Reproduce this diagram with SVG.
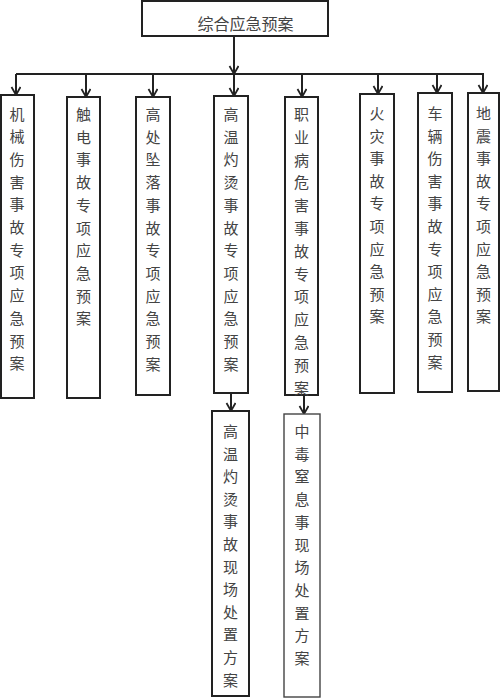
<svg xmlns="http://www.w3.org/2000/svg" width="500" height="699" viewBox="0 0 500 699">
<style>
.box{fill:#fff;stroke:#222;stroke-width:2}
.box2{fill:#fff;stroke:#444;stroke-width:1.4}
.t{font-family:"Noto Sans CJK SC","Noto Sans CJK TC",sans-serif;font-size:15px;fill:#444;text-anchor:middle;dominant-baseline:central}
.tt{font-family:"Noto Sans CJK SC","Noto Sans CJK TC",sans-serif;font-size:16px;fill:#444;text-anchor:middle;dominant-baseline:central}
.ln{stroke:#222;stroke-width:2;fill:none}
.ar{stroke:#222;stroke-width:2;fill:none;marker-end:url(#ah)}
</style>
<defs>
<marker id="ah" markerUnits="userSpaceOnUse" markerWidth="12" markerHeight="12" refX="9" refY="5" orient="auto">
<path d="M1,0.5 L9,5 L1,9.5" fill="none" stroke="#222" stroke-width="1.8"/>
</marker>
</defs>
<rect width="500" height="699" fill="#fff"/>
<g id="connectors">
<line class="ar" x1="234" y1="36" x2="234" y2="74"/>
<line class="ln" x1="16" y1="74" x2="484" y2="74"/>
<line class="ar" x1="16" y1="74" x2="16" y2="95"/>
<line class="ar" x1="86" y1="74" x2="86" y2="97"/>
<line class="ar" x1="153" y1="74" x2="153" y2="97"/>
<line class="ar" x1="234" y1="74" x2="234" y2="96"/>
<line class="ar" x1="302" y1="74" x2="302" y2="97"/>
<line class="ar" x1="378" y1="74" x2="378" y2="94"/>
<line class="ar" x1="437" y1="74" x2="437" y2="93"/>
<line class="ar" x1="483" y1="74" x2="483" y2="93"/>
<line class="ar" x1="231" y1="393" x2="231" y2="411"/>
<line class="ar" x1="304" y1="395" x2="304" y2="414"/>
</g>
<g id="root">
<rect class="box" x="142" y="1" width="186" height="35"/>
<text class="tt" x="245.5" y="23">综合应急预案</text>
</g>
<g id="n1">
<rect class="box" x="1" y="95" width="33" height="303"/>
<text class="t"><tspan x="17" y="112.5">机</tspan><tspan x="17" dy="22.7">械</tspan><tspan x="17" dy="22.7">伤</tspan><tspan x="17" dy="22.7">害</tspan><tspan x="17" dy="22.7">事</tspan><tspan x="17" dy="22.7">故</tspan><tspan x="17" dy="22.7">专</tspan><tspan x="17" dy="22.7">项</tspan><tspan x="17" dy="22.7">应</tspan><tspan x="17" dy="22.7">急</tspan><tspan x="17" dy="22.7">预</tspan><tspan x="17" dy="22.7">案</tspan></text>
</g>
<g id="n2">
<rect class="box" x="67" y="97" width="33" height="301"/>
<text class="t"><tspan x="83.5" y="113">触</tspan><tspan x="83.5" dy="22.7">电</tspan><tspan x="83.5" dy="22.7">事</tspan><tspan x="83.5" dy="22.7">故</tspan><tspan x="83.5" dy="22.7">专</tspan><tspan x="83.5" dy="22.7">项</tspan><tspan x="83.5" dy="22.7">应</tspan><tspan x="83.5" dy="22.7">急</tspan><tspan x="83.5" dy="22.7">预</tspan><tspan x="83.5" dy="22.7">案</tspan></text>
</g>
<g id="n3">
<rect class="box" x="136" y="97" width="34" height="298"/>
<text class="t"><tspan x="153" y="113">高</tspan><tspan x="153" dy="22.7">处</tspan><tspan x="153" dy="22.7">坠</tspan><tspan x="153" dy="22.7">落</tspan><tspan x="153" dy="22.7">事</tspan><tspan x="153" dy="22.7">故</tspan><tspan x="153" dy="22.7">专</tspan><tspan x="153" dy="22.7">项</tspan><tspan x="153" dy="22.7">应</tspan><tspan x="153" dy="22.7">急</tspan><tspan x="153" dy="22.7">预</tspan><tspan x="153" dy="22.7">案</tspan></text>
</g>
<g id="n4">
<rect class="box" x="214" y="96" width="34" height="297"/>
<text class="t"><tspan x="231" y="113">高</tspan><tspan x="231" dy="22.7">温</tspan><tspan x="231" dy="22.7">灼</tspan><tspan x="231" dy="22.7">烫</tspan><tspan x="231" dy="22.7">事</tspan><tspan x="231" dy="22.7">故</tspan><tspan x="231" dy="22.7">专</tspan><tspan x="231" dy="22.7">项</tspan><tspan x="231" dy="22.7">应</tspan><tspan x="231" dy="22.7">急</tspan><tspan x="231" dy="22.7">预</tspan><tspan x="231" dy="22.7">案</tspan></text>
</g>
<g id="n5">
<rect class="box" x="285" y="97" width="33" height="298"/>
<text class="t"><tspan x="301.5" y="113">职</tspan><tspan x="301.5" dy="22.8">业</tspan><tspan x="301.5" dy="22.8">病</tspan><tspan x="301.5" dy="22.8">危</tspan><tspan x="301.5" dy="22.8">害</tspan><tspan x="301.5" dy="22.8">事</tspan><tspan x="301.5" dy="22.8">故</tspan><tspan x="301.5" dy="22.8">专</tspan><tspan x="301.5" dy="22.8">项</tspan><tspan x="301.5" dy="22.8">应</tspan><tspan x="301.5" dy="22.8">急</tspan><tspan x="301.5" dy="22.8">预</tspan><tspan x="301.5" dy="22.8">案</tspan></text>
</g>
<g id="n6">
<rect class="box" x="360" y="94" width="34" height="299"/>
<text class="t"><tspan x="377" y="112">火</tspan><tspan x="377" dy="22.6">灾</tspan><tspan x="377" dy="22.6">事</tspan><tspan x="377" dy="22.6">故</tspan><tspan x="377" dy="22.6">专</tspan><tspan x="377" dy="22.6">项</tspan><tspan x="377" dy="22.6">应</tspan><tspan x="377" dy="22.6">急</tspan><tspan x="377" dy="22.6">预</tspan><tspan x="377" dy="22.6">案</tspan></text>
</g>
<g id="n7">
<rect class="box" x="418" y="93" width="34" height="299"/>
<text class="t"><tspan x="435" y="112">车</tspan><tspan x="435" dy="22.6">辆</tspan><tspan x="435" dy="22.6">伤</tspan><tspan x="435" dy="22.6">害</tspan><tspan x="435" dy="22.6">事</tspan><tspan x="435" dy="22.6">故</tspan><tspan x="435" dy="22.6">专</tspan><tspan x="435" dy="22.6">项</tspan><tspan x="435" dy="22.6">应</tspan><tspan x="435" dy="22.6">急</tspan><tspan x="435" dy="22.6">预</tspan><tspan x="435" dy="22.6">案</tspan></text>
</g>
<g id="n8">
<rect class="box" x="468" y="93" width="31" height="298"/>
<text class="t"><tspan x="483.5" y="112">地</tspan><tspan x="483.5" dy="22.6">震</tspan><tspan x="483.5" dy="22.6">事</tspan><tspan x="483.5" dy="22.6">故</tspan><tspan x="483.5" dy="22.6">专</tspan><tspan x="483.5" dy="22.6">项</tspan><tspan x="483.5" dy="22.6">应</tspan><tspan x="483.5" dy="22.6">急</tspan><tspan x="483.5" dy="22.6">预</tspan><tspan x="483.5" dy="22.6">案</tspan></text>
</g>
<g id="s1">
<rect class="box" x="212" y="411" width="37" height="285"/>
<text class="t"><tspan x="230.5" y="430">高</tspan><tspan x="230.5" dy="22.6">温</tspan><tspan x="230.5" dy="22.6">灼</tspan><tspan x="230.5" dy="22.6">烫</tspan><tspan x="230.5" dy="22.6">事</tspan><tspan x="230.5" dy="22.6">故</tspan><tspan x="230.5" dy="22.6">现</tspan><tspan x="230.5" dy="22.6">场</tspan><tspan x="230.5" dy="22.6">处</tspan><tspan x="230.5" dy="22.6">置</tspan><tspan x="230.5" dy="22.6">方</tspan><tspan x="230.5" dy="22.6">案</tspan></text>
</g>
<g id="s2">
<rect class="box2" x="284" y="414" width="36" height="283"/>
<text class="t"><tspan x="302" y="430">中</tspan><tspan x="302" dy="22.7">毒</tspan><tspan x="302" dy="22.7">窒</tspan><tspan x="302" dy="22.7">息</tspan><tspan x="302" dy="22.7">事</tspan><tspan x="302" dy="22.7">现</tspan><tspan x="302" dy="22.7">场</tspan><tspan x="302" dy="22.7">处</tspan><tspan x="302" dy="22.7">置</tspan><tspan x="302" dy="22.7">方</tspan><tspan x="302" dy="22.7">案</tspan></text>
</g>
</svg>
